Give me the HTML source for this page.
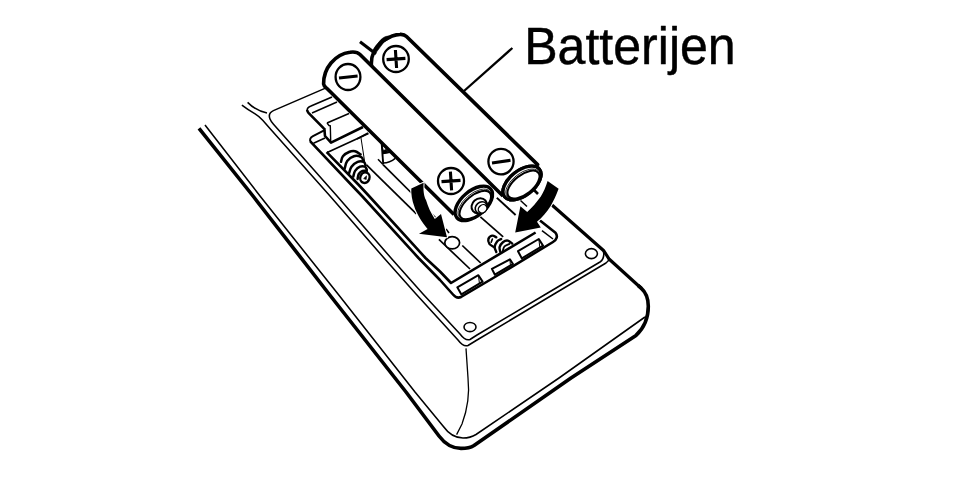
<!DOCTYPE html>
<html><head><meta charset="utf-8"><title>Batterijen</title>
<style>
html,body{margin:0;padding:0;background:#fff;}
body{width:955px;height:490px;overflow:hidden;position:relative;font-family:"Liberation Sans",sans-serif;}
svg{position:absolute;left:0;top:0;}
.lbl{position:absolute;left:525px;top:8.6px;font-size:49px;line-height:1.15;color:#000;white-space:nowrap;letter-spacing:0px;}
</style></head><body>
<svg width="955" height="490" viewBox="0 0 955 490" stroke-linecap="butt" stroke-linejoin="round">
<path d="M199,128.4 L253,196 L329,294 L406,392 L439,436 C445,444 452,448.4 461,448.4 C466,448.4 470,448 474,445.5 L571,378 L636,335.4 C644.5,327.5 648.3,316 648.3,306.2 C648.3,298 645.5,292 640.9,287.9 L638,285.3" fill="none" stroke="#000" stroke-width="3.6" />
<path d="M641.5,288.5 L609.3,259.3 L606.5,255 L603.5,250.5 L552,205" fill="none" stroke="#000" stroke-width="3.2" />
<path d="M205,125 L260,196 L338,294 L415,392 L443,426 C448,433 455,438 463,438 C468,438 472,437 476,434.5 L559,378 L645,317" fill="none" stroke="#000" stroke-width="1.55" />
<path d="M466,348.4 L468,378 C469.5,392 468,408 462,424 L456.6,434.6" fill="none" stroke="#000" stroke-width="1.3" />
<path d="M241.9,105.1 C247,109 251,111.5 255.1,113.9 C258.5,116 260.5,117.8 262.7,120.2 L271.5,130.2 L330,196 L384,258 L416,294 L458,340 C461,344 464,347 468,345.5 L477,340 L554,294 L606,263 C608,261.5 609,260.5 609,259" fill="none" stroke="#000" stroke-width="1.55" />
<path d="M247.6,102.4 C253,108 260,111.5 267,113" fill="none" stroke="#000" stroke-width="1.55" />
<path d="M325.5,88.1 L273.4,110.6 C269.6,112.3 268.6,115.5 270,119 C270.8,121 272,122.6 273.5,124.3 L337,196 L391,258 L423,294 L460,334 C463,338 466,341 470,339.5 L477,335 L546,294 L600,262 C603,260 604.5,257 603.5,251" fill="none" stroke="#000" stroke-width="1.55" />
<ellipse cx="470" cy="327" rx="6" ry="4.6" transform="rotate(0 470 327)" fill="none" stroke="#000" stroke-width="1.55"/>
<ellipse cx="591.4" cy="253.6" rx="6" ry="5" transform="rotate(0 591.4 253.6)" fill="none" stroke="#000" stroke-width="1.55"/>
<path d="M325.1,129.9 L313,136.2 C310,137.8 309.2,140 311,142.2" fill="none" stroke="#000" stroke-width="2.0" />
<path d="M310.5,141.5 L311,142.2 L351.5,185 L362,196 L418.5,258 L440,280 L453,294.5 C455.5,297.5 458,298.5 461,297 L500,274 L553,242 C557,239.5 558,236 555.5,232.8 L540,220.5" fill="none" stroke="#000" stroke-width="2.6" />
<path d="M533,189 L538,194" fill="none" stroke="#000" stroke-width="2.6" />
<path d="M368.5,133.4 L327.2,152.6" fill="none" stroke="#000" stroke-width="1.6" />
<path d="M326.6,152 L327.2,152.6 L358.8,185 L369,196 L425.5,258 L440,271.5 L451,283 L535.6,232.5" fill="none" stroke="#000" stroke-width="2.6" />
<path d="M313.5,143.3 L325,138" fill="none" stroke="#000" stroke-width="1.6" />
<path d="M332,97 L311,106 C308.5,107 307,108.7 307.2,110.4" fill="none" stroke="#000" stroke-width="1.7" />
<path d="M307.2,110 C307.2,111 307.6,111.8 308.5,112.8 L324,128.7" fill="none" stroke="#000" stroke-width="2.6" />
<path d="M312,113 L337,102" fill="none" stroke="#000" stroke-width="1.55" />
<path d="M327,123 L349,113.6" fill="none" stroke="#000" stroke-width="1.6" />
<path d="M327,123 L329,125.5 L330.3,125.7 L330.7,141" fill="none" stroke="#000" stroke-width="1.4" />
<path d="M324.3,128 L325,136 L331,142.6 L363,127" fill="none" stroke="#000" stroke-width="2.6" />
<path d="M357,139 L368,133" fill="none" stroke="#000" stroke-width="1.6" />
<path d="M361,138 L365,164" fill="none" stroke="#000" stroke-width="1.0" />
<path d="M457.3,287.3 L478.4,275.2 L482.6,281.6 L461.4,294.4 Z" fill="none" stroke="#000" stroke-width="2.0" />
<path d="M491.9,268.9 L509.9,259.4 L513,264 L494.9,274.7 Z" fill="none" stroke="#000" stroke-width="2.0" />
<path d="M518,251.2 L538.8,239 L543,245.6 L521.8,258.4 Z" fill="none" stroke="#000" stroke-width="2.0" />
<path d="M478.4,275.2 L479.4,283" fill="none" stroke="#000" stroke-width="1.0" />
<path d="M509.9,259.4 L510.4,265" fill="none" stroke="#000" stroke-width="1.0" />
<path d="M538.8,239 L539.8,247" fill="none" stroke="#000" stroke-width="1.0" />
<path d="M542,230.6 L553,239" fill="none" stroke="#000" stroke-width="1.55" />
<path d="M383,164.6 L413,194.5" fill="none" stroke="#000" stroke-width="1.7" />
<path d="M366.5,164.8 L416.4,213.9" fill="none" stroke="#000" stroke-width="1.7" />
<path d="M429.7,211.8 L438,220" fill="none" stroke="#000" stroke-width="1.55" />
<path d="M438.9,239.4 L470,269" fill="none" stroke="#000" stroke-width="1.7" />
<path d="M462.3,245.5 L480.7,263" fill="none" stroke="#000" stroke-width="1.7" />
<path d="M480.4,216.8 L503.2,236.8" fill="none" stroke="#000" stroke-width="1.7" />
<path d="M492.3,193.6 L515.6,215" fill="none" stroke="#000" stroke-width="1.9" />
<path d="M520.5,200.5 L527,206.5" fill="none" stroke="#000" stroke-width="1.55" />
<path d="M446,229 L449,233" fill="none" stroke="#000" stroke-width="1.55" />
<path d="M381.6,142.5 L383.2,164" fill="none" stroke="#000" stroke-width="1.9" />
<path d="M381.8,145 L383,153.6 L389,152.4 L386,149.5 L383.4,150.6 Z" fill="#000" stroke="#000" stroke-width="0.8" />
<path d="M383,153.6 L390,152.4" fill="none" stroke="#000" stroke-width="1.4" />
<path d="M383,163 C388,163 392,161.2 395.2,158.4" fill="none" stroke="#000" stroke-width="1.4" />
<path d="M378,159.2 L383,164.4" fill="none" stroke="#000" stroke-width="1.5" />
<ellipse cx="452.2" cy="242.8" rx="7.4" ry="6.1" transform="rotate(0 452.2 242.8)" fill="#fff" stroke="#000" stroke-width="1.7"/>
<path d="M341,161.8 C341.32,160.87 341.57,157.83 342.9,156.2 C344.23,154.57 346.97,152.82 349,152 C351.03,151.18 353.17,150.90 355.1,151.3 C357.03,151.70 359.68,153.88 360.6,154.4" fill="none" stroke="#000" stroke-width="2.5" stroke-linecap="round"/>
<path d="M344.7,168.5 C345.12,167.27 345.67,163.15 347.2,161.1 C348.73,159.05 351.55,156.87 353.9,156.2 C356.25,155.53 359.77,156.38 361.3,157.1 C362.83,157.82 362.80,159.93 363.1,160.5" fill="none" stroke="#000" stroke-width="2.5" stroke-linecap="round"/>
<path d="M349,173.4 C349.42,172.28 350.07,168.63 351.5,166.7 C352.93,164.77 355.57,162.62 357.6,161.8 C359.63,160.98 362.38,161.25 363.7,161.8 C365.02,162.35 365.20,164.55 365.5,165.1" fill="none" stroke="#000" stroke-width="2.5" stroke-linecap="round"/>
<path d="M353.3,176.5 C353.60,175.57 353.98,172.53 355.1,170.9 C356.22,169.27 358.37,167.40 360,166.7 C361.63,166.00 363.77,166.20 364.9,166.7 C366.03,167.20 366.48,169.20 366.8,169.7" fill="none" stroke="#000" stroke-width="2.5" stroke-linecap="round"/>
<path d="M357.6,178.9 C357.80,178.08 357.98,175.33 358.8,174 C359.62,172.67 361.17,171.42 362.5,170.9 C363.83,170.38 366.08,170.90 366.8,170.9" fill="none" stroke="#000" stroke-width="2.5" stroke-linecap="round"/>
<ellipse cx="364.9" cy="177.7" rx="4.6" ry="5.3" transform="rotate(20 364.9 177.7)" fill="#fff" stroke="#000" stroke-width="2.4"/>
<path d="M363.6,178.6 L366.6,175.8 L366.2,179.6 Z" fill="#000" stroke="#000" stroke-width="0.6" />
<path d="M493.9,247.1 C493.15,246.57 490.32,245.25 489.4,243.9 C488.48,242.55 487.93,240.37 488.4,239 C488.87,237.63 490.88,235.98 492.2,235.7 C493.52,235.42 495.62,237.03 496.3,237.3" fill="none" stroke="#000" stroke-width="2.4" stroke-linecap="round"/>
<path d="M491.2,242.2 C491.40,241.67 492.20,239.53 492.4,239" fill="none" stroke="#000" stroke-width="1.6" stroke-linecap="round"/>
<path d="M496.3,252 C496.03,251.18 494.57,248.87 494.7,247.1 C494.83,245.33 496.02,242.75 497.1,241.4 C498.18,240.05 500.52,239.40 501.2,239" fill="none" stroke="#000" stroke-width="2.4" stroke-linecap="round"/>
<path d="M500.4,252 C500.27,251.18 499.18,248.73 499.6,247.1 C500.02,245.47 501.53,243.28 502.9,242.2 C504.27,241.12 506.25,240.37 507.8,240.6 C509.35,240.83 511.47,243.10 512.2,243.6" fill="none" stroke="#000" stroke-width="2.4" stroke-linecap="round"/>
<path d="M502.9,250.4 C503.17,249.72 503.42,247.38 504.5,246.3 C505.58,245.22 508.58,244.30 509.4,243.9" fill="none" stroke="#000" stroke-width="1.8" stroke-linecap="round"/>
<path d="M371,64 C371,55 375,46 383,41 C389,37 395,34.4 400,34.4 C403,34.2 405,35 406.5,36.5 L539,166 C541,168 541,171 539,174 L505,199 L371,66 Z" fill="#fff" stroke="none" stroke-width="0.1" />
<path d="M360,41.8 L376,54" fill="none" stroke="#000" stroke-width="3.1" />
<path d="M375,54 C375.5,46 379.5,39.3 385,36.8 C388,35.6 390.5,36 391.5,37.5 L384,42 L378,50 Z" fill="#000" stroke="#000" stroke-width="0.6" />
<path d="M371.5,66 C370.5,56 375,46.5 383,41 C389,37 395,34.4 400,34.4 C403,34.2 405,35 406.5,36.5 L537.6,164.6" fill="none" stroke="#000" stroke-width="3.6" stroke-linecap="round"/>
<ellipse cx="522" cy="183" rx="22.2" ry="12.4" transform="rotate(-38.4 522 183)" fill="#fff" stroke="#000" stroke-width="3.4"/>
<ellipse cx="501" cy="161.6" rx="12.6" ry="12.8" transform="rotate(0 501 161.6)" fill="#fff" stroke="#000" stroke-width="2.3"/>
<path d="M492,163 L510.5,160.3" fill="none" stroke="#000" stroke-width="3.1" />
<path d="M323.6,84 C323.5,76 326,69 331,63 C336,57 343,53 350,52.2 C354,51.6 357.5,52 360,54.5 L501,194 L470,222 L457,219 L327,88.5 C325,86.8 323.8,86 323.6,84 Z" fill="#fff" stroke="none" stroke-width="0.1" />
<path d="M454,214.5 L327,88.5 C325,86.8 323.8,86 323.6,84 C323.5,76 326,69 331,63 C336,57 343,53 350,52.2 C354,51.6 357.5,52 360,54.5 L503,196" fill="none" stroke="#000" stroke-width="3.6" />
<ellipse cx="522" cy="183" rx="22.2" ry="12.4" transform="rotate(-38.4 522 183)" fill="#fff" stroke="#000" stroke-width="3.4"/>
<ellipse cx="522.7" cy="183.8" rx="19.9" ry="10.3" transform="rotate(-38.4 522.7 183.8)" fill="#fff" stroke="#000" stroke-width="0.8"/>
<ellipse cx="523.5" cy="184.6" rx="19.0" ry="9.5" transform="rotate(-38.4 523.5 184.6)" fill="#fff" stroke="#000" stroke-width="2.0"/>
<ellipse cx="473.8" cy="203.4" rx="22.2" ry="12.4" transform="rotate(-40.5 473.8 203.4)" fill="#fff" stroke="#000" stroke-width="3.4"/>
<ellipse cx="474.5" cy="204.20000000000002" rx="19.9" ry="10.3" transform="rotate(-40.5 474.5 204.20000000000002)" fill="#fff" stroke="#000" stroke-width="0.8"/>
<ellipse cx="475.3" cy="205.0" rx="19.0" ry="9.5" transform="rotate(-40.5 475.3 205.0)" fill="#fff" stroke="#000" stroke-width="2.0"/>
<ellipse cx="479.2" cy="205.8" rx="8.2" ry="7.0" transform="rotate(-41 479.2 205.8)" fill="#fff" stroke="#000" stroke-width="2.0"/>
<ellipse cx="481.2" cy="207.6" rx="6.4" ry="5.4" transform="rotate(-41 481.2 207.6)" fill="#fff" stroke="#000" stroke-width="1.6"/>
<ellipse cx="482.6" cy="208.8" rx="4.6" ry="3.8" transform="rotate(-41 482.6 208.8)" fill="#fff" stroke="#000" stroke-width="1.4"/>
<ellipse cx="348" cy="77" rx="12.4" ry="13" transform="rotate(0 348 77)" fill="#fff" stroke="#000" stroke-width="2.3"/>
<path d="M339,78 L357.6,76" fill="none" stroke="#000" stroke-width="3.1" />
<ellipse cx="396" cy="59" rx="12.8" ry="13" transform="rotate(0 396 59)" fill="#fff" stroke="#000" stroke-width="2.3"/>
<path d="M386.6,59.6 L405.4,58.4 M395.4,50 L396.6,68" fill="none" stroke="#000" stroke-width="3.1" />
<ellipse cx="451" cy="181" rx="13" ry="13" transform="rotate(0 451 181)" fill="#fff" stroke="#000" stroke-width="2.3"/>
<path d="M441.5,181.6 L460.5,180.4 M450.4,171.6 L451.6,190.4" fill="none" stroke="#000" stroke-width="3.1" />
<path d="M411.3,188.4 L423.6,182.7 C423,190 424,197 426,200 C428,207 431,213 434.8,219 L441,213.9 L447,237.3 L419,233.7 L427.6,229 C421,221 416,212 414.4,206.7 C412,200 411,194 411.3,188.4 Z" fill="#000" stroke="#fff" stroke-width="2.0" paint-order="stroke"/>
<path d="M547.6,181 L558.6,188.8 C556,196 553.5,201 550.5,206.2 C546.5,212.5 542,217.5 537,221.7 L540.8,227.5 L515.2,232.4 L520.4,206.2 L527.2,212 C532,207.5 537,202 540.8,196.5 C543.5,192 546,186.5 547.6,181 Z" fill="#000" stroke="#fff" stroke-width="2.0" paint-order="stroke"/>
<path d="M464,91 L512.4,48" fill="none" stroke="#000" stroke-width="2.3" />
<text transform="translate(524.2,64) scale(0.965,1)" font-family="Liberation Sans, sans-serif" font-size="51.9" fill="#000" stroke="#000" stroke-width="0.45">Batterijen</text>
</svg>

</body></html>
